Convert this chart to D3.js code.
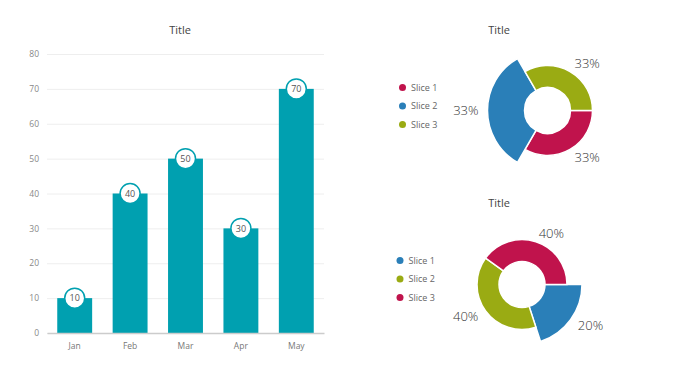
<!DOCTYPE html>
<html><head><meta charset="utf-8">
<script src="https://cdn.jsdelivr.net/npm/d3@7/dist/d3.min.js"></script>
<style>
body{margin:0;background:#fff;}
text{font-family:"Open Sans","Noto Sans",sans-serif;}
</style></head>
<body><svg id="c" width="680" height="383"></svg>
<script>
const months = ["Jan","Feb","Mar","Apr","May"];
const barValues = [10,40,50,30,70];
const yTicks = [0,10,20,30,40,50,60,70,80];

const pie1Labels = ["Slice 1","Slice 2","Slice 3"];
const pie1Values = [33.33,33.33,33.33];
const pie1Colors = ["#C0134C","#2A7FB8","#9AAB13"];
const pie1Exploded = [false,true,false];

const pie2Labels = ["Slice 1","Slice 2","Slice 3"];
const pie2Values = [20,40,40];
const pie2Colors = ["#2A7FB8","#9AAB13","#C0134C"];
const pie2Exploded = [true,false,false];

const teal = "#00A0B0";
const svg = d3.select("#c");

// ---- Bar chart ----
const x = d3.scaleBand().domain(months).range([47,324]).paddingInner(0.37).paddingOuter(0.185);
const y = d3.scaleLinear().domain([0,80]).range([333,54]);

svg.append("text").attr("x",180).attr("y",34).attr("text-anchor","middle")
  .attr("font-size",11).attr("fill","#444").text("Title");

const gy = svg.append("g").attr("transform","translate(47,0)")
  .call(d3.axisLeft(y).tickValues(yTicks).tickSize(-277).tickPadding(8));
gy.select(".domain").remove();
gy.selectAll(".tick line").attr("stroke","#eee");
gy.selectAll(".tick text").attr("fill","#888").attr("font-size",8.5);

svg.append("g").selectAll("rect").data(barValues).join("rect")
  .attr("x",(d,i)=>x(months[i])).attr("width",x.bandwidth())
  .attr("y",d=>y(d)).attr("height",d=>y(0)-y(d)).attr("fill",teal);

const gx = svg.append("g").attr("transform","translate(0,333)")
  .call(d3.axisBottom(x).tickSize(0).tickPadding(10));
gx.select(".domain").attr("stroke","#ccc").attr("stroke-width",1.5);
gx.selectAll(".tick text").attr("fill","#777").attr("font-size",8.5);

const lbl = svg.append("g").selectAll("g").data(barValues).join("g")
  .attr("transform",(d,i)=>`translate(${x(months[i])+x.bandwidth()/2},${y(d)})`);
lbl.append("circle").attr("r",10).attr("fill","#fff").attr("stroke",teal).attr("stroke-width",1.5);
lbl.append("text").attr("text-anchor","middle").attr("dy","0.35em")
  .attr("font-size",9).attr("fill","#555").text(d=>d);

// ---- Donuts ----
function donut(cfg){
  const {labels, values, colors, exploded, cx, cy, titleY, legX, legY} = cfg;
  svg.append("text").attr("x",499).attr("y",titleY).attr("text-anchor","middle")
    .attr("font-size",11).attr("fill","#444").text("Title");
  const pie = d3.pie().sort(null).startAngle(Math.PI/2).endAngle(Math.PI/2+2*Math.PI);
  const arcs = pie(values);
  const rIn = 23, rOut = 45, rBig = 60;
  const g = svg.append("g").attr("transform",`translate(${cx},${cy})`);
  g.selectAll("path").data(arcs).join("path")
    .attr("d",(d,i)=>d3.arc().innerRadius(rIn).outerRadius(exploded[i]?rBig:rOut)(d))
    .attr("fill",(d,i)=>colors[i]).attr("stroke","#fff").attr("stroke-width",1.5);
  const total = d3.sum(values);
  g.selectAll("text").data(arcs).join("text")
    .each(function(d,i){
      const r = (exploded[i]?rBig:rOut)+9;
      const a = (d.startAngle+d.endAngle)/2;
      const px = Math.sin(a)*r, py = -Math.cos(a)*r;
      d3.select(this).attr("x",px).attr("y",py).attr("dy","0.35em")
        .attr("text-anchor", px>=0 ? "start":"end");
    })
    .attr("font-size",13).attr("fill","#333").attr("font-weight",300)
    .text(d=>Math.round(d.value/total*100)+"%");
  const leg = svg.append("g").selectAll("g").data(labels).join("g")
    .attr("transform",(d,i)=>`translate(${legX},${legY+i*18.5})`);
  leg.append("circle").attr("r",3.5).attr("fill",(d,i)=>colors[i]);
  leg.append("text").attr("x",8.5).attr("dy","0.35em").attr("font-size",9)
    .attr("fill","#666").text(d=>d);
}
donut({labels:pie1Labels, values:pie1Values, colors:pie1Colors, exploded:pie1Exploded,
  cx:547.5, cy:110.5, titleY:34, legX:402.5, legY:87.5});
donut({labels:pie2Labels, values:pie2Values, colors:pie2Colors, exploded:pie2Exploded,
  cx:522, cy:284.5, titleY:207, legX:400, legY:260.5});
</script></body></html>
